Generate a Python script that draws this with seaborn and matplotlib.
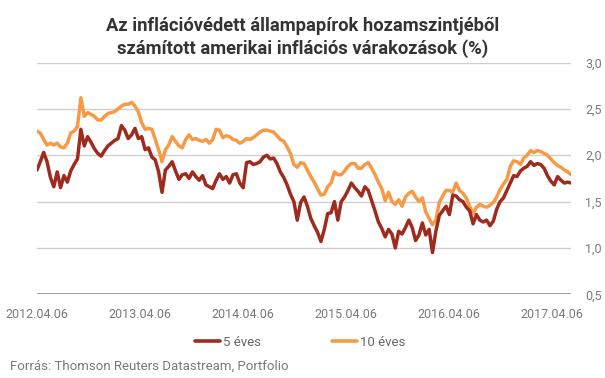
import pandas as pd
import matplotlib
matplotlib.use("Agg")
import matplotlib.pyplot as plt
import matplotlib.dates as mdates
from matplotlib.lines import Line2D
import seaborn as sns

# ==========================
# 1. Adatok (leolvasva, ~12 naponként)
# ==========================
start_date = "2012-04-06"

ten_year = [
    2.26, 2.24, 2.17, 2.11, 2.13, 2.11, 2.13, 2.09, 2.08, 2.13, 2.24, 2.26, 2.31,
    2.62, 2.42, 2.46, 2.44, 2.42, 2.38, 2.38, 2.42, 2.45, 2.46, 2.47, 2.50, 2.53,
    2.55, 2.55, 2.57, 2.53, 2.47, 2.35, 2.28, 2.29, 2.28, 2.17, 2.06, 1.93, 2.06,
    2.11, 2.20, 2.15, 2.10, 2.08, 2.17, 2.22, 2.17, 2.18, 2.16, 2.15, 2.17, 2.13,
    2.17, 2.28, 2.27, 2.19, 2.21, 2.20, 2.17, 2.16, 2.13, 2.15, 2.18, 2.17, 2.19,
    2.22, 2.25, 2.27, 2.27, 2.26, 2.25, 2.21, 2.17, 2.15, 2.09, 2.02, 1.90, 1.87, 1.92,
    1.91, 1.84, 1.77, 1.71, 1.64, 1.57, 1.58, 1.66, 1.70, 1.82, 1.79, 1.79, 1.83,
    1.88, 1.91, 1.91, 1.86, 1.86, 1.90, 1.92, 1.86, 1.79, 1.71, 1.64, 1.51, 1.60,
    1.50, 1.47, 1.52, 1.45, 1.55, 1.59, 1.61, 1.55, 1.50, 1.54, 1.39, 1.32, 1.25,
    1.30, 1.49, 1.56, 1.62, 1.62, 1.60, 1.70, 1.62, 1.59, 1.54, 1.45, 1.37, 1.44,
    1.47,
    1.45, 1.44, 1.46, 1.49, 1.55, 1.63, 1.69, 1.74, 1.88, 1.94, 1.93, 1.90, 1.97,
    2.00, 2.05, 2.03, 2.05, 2.04, 2.02, 2.00, 1.96, 1.92, 1.89, 1.87, 1.84, 1.82, 1.79,
]

five_year = [
    1.84, 1.93, 2.03, 1.93, 1.76, 1.66, 1.82, 1.65, 1.78, 1.71, 1.83, 1.90, 1.96,
    2.28, 2.10, 2.20, 2.14, 2.07, 2.02, 1.99, 2.05, 2.10, 2.13, 2.16, 2.18, 2.32,
    2.27, 2.18, 2.22, 2.29, 2.18, 2.20, 2.06, 2.08, 1.98, 1.95, 1.82, 1.60, 1.84,
    1.88, 1.93, 1.83, 1.74, 1.79, 1.80, 1.75, 1.82, 1.77, 1.73, 1.78, 1.68, 1.66,
    1.64, 1.73, 1.80, 1.74, 1.77, 1.70, 1.79, 1.80, 1.70, 1.65, 1.92, 1.93, 1.90,
    1.91, 1.93, 1.98, 2.00, 1.96, 1.97, 1.91, 1.82, 1.76, 1.68, 1.58, 1.50, 1.30, 1.49,
    1.55, 1.45, 1.32, 1.24, 1.17, 1.07, 1.20, 1.37, 1.38, 1.50, 1.30, 1.50, 1.55,
    1.62, 1.70, 1.65, 1.61, 1.56, 1.66, 1.62, 1.51, 1.40, 1.28, 1.21, 1.12, 1.20,
    1.15, 1.00, 1.18, 1.15, 1.22, 1.30, 1.22, 1.08, 1.14, 1.27, 1.14, 1.20, 0.95,
    1.18, 1.35, 1.40, 1.45, 1.36, 1.57, 1.56, 1.52, 1.50, 1.44, 1.40, 1.26, 1.36,
    1.30,
    1.28, 1.30, 1.24, 1.29, 1.42, 1.50, 1.54, 1.62, 1.70, 1.78, 1.77, 1.83, 1.86,
    1.88, 1.93, 1.89, 1.91, 1.90, 1.86, 1.78, 1.72, 1.68, 1.77, 1.73, 1.70, 1.71, 1.70,
]

tick_dates = ["2012-04-06", "2013-04-06", "2014-04-06",
              "2015-04-06", "2016-04-06", "2017-04-06"]
y_ticks = [0.5, 1.0, 1.5, 2.0, 2.5, 3.0]

series_names = ["5 éves", "10 éves"]
colors = {"5 éves": "#9E2B1E", "10 éves": "#F79A45"}

df = pd.DataFrame({
    "date": pd.date_range(start_date, periods=len(ten_year), freq="12D"),
    "5 éves": five_year,
    "10 éves": ten_year,
})

# ==========================
# 2. Rajzolás
# ==========================
sns.set_theme(style="white")
plt.rcParams["font.family"] = ["Roboto", "DejaVu Sans"]

fig = plt.figure(figsize=(6.05, 3.78), dpi=100)
ax = fig.add_axes([0.061, 0.2214, 0.883, 0.6132])

sns.lineplot(data=df, x="date", y="10 éves", color=colors["10 éves"], lw=2.5, ax=ax)
sns.lineplot(data=df, x="date", y="5 éves", color=colors["5 éves"], lw=2.5, ax=ax)

ax.set_xlim(df["date"].iloc[0], df["date"].iloc[-1])
ax.set_ylim(0.5, 3.0)
ax.set_xlabel("")
ax.set_ylabel("")

ax.set_yticks(y_ticks)
ax.set_yticklabels([f"{v:.1f}".replace(".", ",") for v in y_ticks])
ax.yaxis.tick_right()
ax.set_xticks(pd.to_datetime(tick_dates))
ax.xaxis.set_major_formatter(mdates.DateFormatter("%Y.%m.%d"))
ax.tick_params(axis="both", length=0, labelsize=9, labelcolor="#7a7a7a")
ax.tick_params(axis="y", pad=10)
ax.tick_params(axis="x", pad=10)

for v in y_ticks[1:]:
    ax.axhline(v, color="#d0d0d0", lw=1, zorder=0)
ax.axhline(0.5, color="#8c8c8c", lw=1.2, zorder=0)
for s in ax.spines.values():
    s.set_visible(False)

fig.text(0.5, 0.9, "Az inflációvédett állampapírok hozamszintjéből\n"
         "számított amerikai inflációs várakozások (%)",
         ha="center", va="center", fontsize=13.2, fontweight="bold",
         color="#333333", linespacing=1.3)

handles = [Line2D([], [], color=colors[n], lw=2.6) for n in series_names]
fig.legend(handles, series_names, loc="center", bbox_to_anchor=(0.496, 0.095),
           ncol=2, frameon=False, fontsize=9.5, handlelength=1.9,
           handletextpad=0.2, columnspacing=5.4, labelcolor="#666666")

fig.text(0.017, 0.032, "Forrás: Thomson Reuters Datastream, Portfolio",
         fontsize=9.5, color="#7a7a7a", va="center")

fig.savefig("out.png", dpi=100)
